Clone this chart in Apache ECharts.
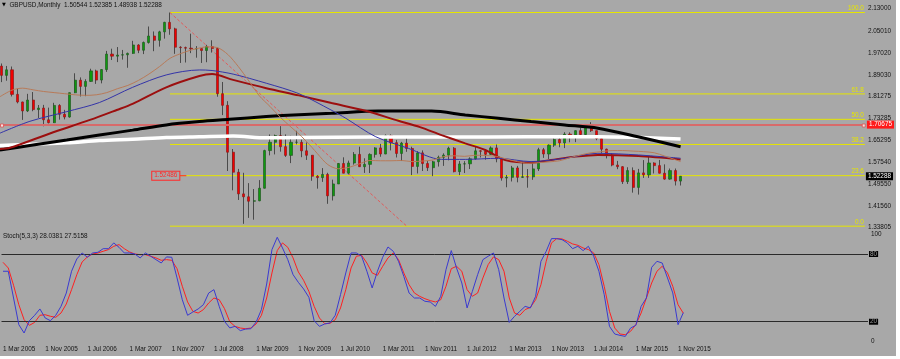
<!DOCTYPE html>
<html><head><meta charset="utf-8">
<script src="https://cdn.jsdelivr.net/npm/echarts@6/dist/echarts.min.js"></script>
<style>html,body{margin:0;padding:0;background:#fff;}#c{width:896px;height:356px;}</style>
</head><body><div id="c"></div>
<script>
// ---- categories (monthly bars, index 0 = Mar 2005) ----
const months = [
'2005-03','2005-04','2005-05','2005-06','2005-07','2005-08','2005-09','2005-10','2005-11','2005-12',
'2006-01','2006-02','2006-03','2006-04','2006-05','2006-06','2006-07','2006-08','2006-09','2006-10','2006-11','2006-12',
'2007-01','2007-02','2007-03','2007-04','2007-05','2007-06','2007-07','2007-08','2007-09','2007-10','2007-11','2007-12',
'2008-01','2008-02','2008-03','2008-04','2008-05','2008-06','2008-07','2008-08','2008-09','2008-10','2008-11','2008-12',
'2009-01','2009-02','2009-03','2009-04','2009-05','2009-06','2009-07','2009-08','2009-09','2009-10','2009-11','2009-12',
'2010-01','2010-02','2010-03','2010-04','2010-05','2010-06','2010-07','2010-08','2010-09','2010-10','2010-11','2010-12',
'2011-01','2011-02','2011-03','2011-04','2011-05','2011-06','2011-07','2011-08','2011-09','2011-10','2011-11','2011-12',
'2012-01','2012-02','2012-03','2012-04','2012-05','2012-06','2012-07','2012-08','2012-09','2012-10','2012-11','2012-12',
'2013-01','2013-02','2013-03','2013-04','2013-05','2013-06','2013-07','2013-08','2013-09','2013-10','2013-11','2013-12',
'2014-01','2014-02','2014-03','2014-04','2014-05','2014-06','2014-07','2014-08','2014-09','2014-10','2014-11','2014-12',
'2015-01','2015-02','2015-03','2015-04','2015-05','2015-06','2015-07','2015-08','2015-09','2015-10','2015-11','2015-12'];

const opens = [
1.9220,1.8885,1.9085,1.8195,1.7920,1.7595,1.7990,1.7645,1.7700,1.7275,
1.7170,1.7795,1.7475,1.7375,1.8255,1.8710,1.8485,1.8665,1.9045,1.8715,1.9095,1.9655,
1.9580,1.9620,1.9630,1.9680,1.9985,1.9795,2.0075,2.0310,2.0155,2.0460,2.0805,2.0570,
1.9905,1.9890,1.9870,1.9845,1.9855,1.9785,1.9925,1.9860,1.8220,1.7800,1.6100,1.5375,
1.4590,1.4485,1.4325,1.4340,1.4795,1.6160,1.6460,1.6700,1.6300,1.5985,1.6460,1.6460,
1.6150,1.5990,1.5230,1.5180,1.5295,1.4520,1.4950,1.5690,1.5340,1.5710,1.6020,1.5575,
1.5660,1.6020,1.6255,1.6035,1.6700,1.6445,1.6055,1.6430,1.6235,1.5585,1.6075,1.5690,
1.5540,1.5755,1.5915,1.5995,1.6245,1.5395,1.5675,1.5680,1.5860,1.6150,1.6135,1.6025,
1.6255,1.5860,1.5165,1.5190,1.5530,1.5190,1.5210,1.5205,1.5495,1.6190,1.6035,1.6355,
1.6560,1.6440,1.6755,1.6670,1.6880,1.6740,1.7105,1.6880,1.6595,1.6210,1.5995,1.5635,
1.5575,1.5035,1.5435,1.4825,1.5350,1.5280,1.5710,1.5615,1.5340,1.5125,1.5435,1.50544];
const highs = [
1.9315,1.9225,1.9205,1.8400,1.7930,1.8215,1.8280,1.7810,1.7815,1.7715,
1.7890,1.7840,1.7635,1.8265,1.8960,1.8810,1.8745,1.9125,1.9090,1.9105,1.9770,1.9850,
1.9910,1.9805,1.9710,2.0135,2.0015,2.0110,2.0655,2.0475,2.0500,2.0825,2.1161,2.0610,
1.9940,1.9925,2.0395,1.9945,1.9855,1.9990,2.0155,1.9890,1.8645,1.7950,1.6215,1.5495,
1.5355,1.4980,1.4765,1.5090,1.6190,1.6745,1.6740,1.7045,1.6745,1.6695,1.6875,1.6560,
1.6455,1.5995,1.5270,1.5525,1.5355,1.5105,1.5710,1.5915,1.5795,1.6105,1.6300,1.5880,
1.6060,1.6280,1.6400,1.6745,1.6745,1.6545,1.6475,1.6620,1.6300,1.6140,1.6165,1.5780,
1.5790,1.5975,1.6060,1.6300,1.6285,1.5780,1.5775,1.5915,1.6310,1.6175,1.6140,1.6310,
1.6380,1.5890,1.5275,1.5605,1.5605,1.5750,1.5490,1.5715,1.6260,1.6255,1.6385,1.6605,
1.6665,1.6825,1.6820,1.6890,1.6995,1.7110,1.7190,1.6880,1.6650,1.6230,1.6060,1.5785,
1.5590,1.5555,1.5550,1.5495,1.5815,1.5930,1.5735,1.5820,1.5660,1.5510,1.5510,1.52385];
const lows = [
1.8640,1.8690,1.8120,1.7870,1.7270,1.7555,1.7585,1.7340,1.7040,1.7145,
1.7160,1.7280,1.7290,1.7350,1.8240,1.8120,1.8130,1.8650,1.8575,1.8595,1.9010,1.9440,
1.9365,1.9455,1.9160,1.9665,1.9690,1.9655,2.0035,1.9760,1.9925,2.0215,2.0355,1.9665,
1.9335,1.9350,1.9690,1.9525,1.9335,1.9360,1.9710,1.8110,1.7445,1.5420,1.4720,1.4370,
1.3505,1.3720,1.3655,1.4325,1.4785,1.5985,1.6020,1.6120,1.5930,1.5705,1.6385,1.5920,
1.5820,1.5065,1.4780,1.5025,1.4230,1.4350,1.4950,1.5340,1.5295,1.5650,1.5575,1.5350,
1.5345,1.5905,1.5935,1.6030,1.6165,1.5910,1.5780,1.6115,1.5270,1.5330,1.5420,1.5420,
1.5235,1.5580,1.5605,1.5805,1.5370,1.5270,1.5345,1.5490,1.5830,1.5910,1.5830,1.6000,
1.5735,1.5070,1.4830,1.5040,1.5010,1.5165,1.4815,1.5100,1.5420,1.5895,1.5855,1.6290,
1.6280,1.6250,1.6460,1.6465,1.6695,1.6695,1.6835,1.6535,1.6050,1.5875,1.5590,1.5485,
1.4950,1.4950,1.4635,1.4565,1.5170,1.5170,1.5330,1.5330,1.5105,1.5105,1.4895,1.48938];
const closes = [
1.8885,1.9085,1.8195,1.7920,1.7595,1.7990,1.7645,1.7700,1.7275,1.7170,
1.7795,1.7475,1.7375,1.8255,1.8710,1.8485,1.8665,1.9045,1.8715,1.9095,1.9655,1.9580,
1.9620,1.9630,1.9680,1.9985,1.9795,2.0075,2.0310,2.0155,2.0460,2.0805,2.0570,1.9905,
1.9890,1.9870,1.9845,1.9855,1.9785,1.9925,1.9860,1.8220,1.7800,1.6100,1.5375,1.4590,
1.4485,1.4325,1.4340,1.4795,1.6160,1.6460,1.6700,1.6300,1.5985,1.6460,1.6460,1.6150,
1.5990,1.5230,1.5180,1.5295,1.4520,1.4950,1.5690,1.5340,1.5710,1.6020,1.5575,1.5660,
1.6020,1.6255,1.6035,1.6700,1.6445,1.6055,1.6430,1.6235,1.5585,1.6075,1.5690,1.5540,
1.5755,1.5915,1.5995,1.6245,1.5395,1.5675,1.5680,1.5860,1.6150,1.6135,1.6025,1.6255,
1.5860,1.5165,1.5190,1.5530,1.5190,1.5210,1.5205,1.5495,1.6190,1.6035,1.6355,1.6560,
1.6440,1.6755,1.6670,1.6880,1.6740,1.7105,1.6880,1.6595,1.6210,1.5995,1.5635,1.5575,
1.5035,1.5435,1.4825,1.5350,1.5280,1.5710,1.5615,1.5340,1.5125,1.5435,1.5055,1.52288];

// ---- moving averages: [bar index, price] ----
const maTan = [[-0.3,1.811],[2,1.835],[4,1.842],[6,1.836],[8,1.830],[10,1.826],[12,1.822],[14,1.818],[16,1.816],[18,1.818],[20,1.826],[22,1.840],[24,1.852],[26,1.870],[28,1.893],[30,1.920],[32,1.950],[34,1.967],[36,1.980],[38,1.989],[39,1.992],[41,1.989],[43,1.964],[45,1.920],[47,1.868],[49,1.814],[51,1.776],[53,1.736],[55,1.701],[57,1.667],[59,1.627],[60,1.605],[62,1.565],[64,1.550],[66,1.555],[68,1.568],[70,1.580],[72,1.579],[74,1.579],[76,1.580],[78,1.576],[80,1.578],[82,1.582],[84,1.594],[86,1.597],[88,1.595],[90,1.599],[92,1.598],[94,1.595],[96,1.585],[98,1.576],[100,1.570],[102,1.572],[104,1.575],[106,1.579],[108,1.590],[110,1.600],[112,1.608],[114,1.612],[116,1.616],[118,1.616],[120,1.614],[122,1.612],[124,1.608],[126,1.596],[128,1.583],[129,1.576]];
const maBlue = [[-0.3,1.679],[5.4,1.722],[12.4,1.757],[18.6,1.790],[24.9,1.845],[31.3,1.890],[37.6,1.908],[40,1.906],[44,1.893],[50.3,1.860],[56.5,1.822],[62.6,1.763],[65.4,1.733],[71.1,1.666],[77.3,1.624],[83.6,1.584],[88.1,1.584],[94.4,1.588],[100.6,1.576],[107,1.588],[113.3,1.606],[121,1.600],[129,1.588]];
const maRed = [[-0.3,1.622],[1.6,1.626],[9.2,1.678],[16.8,1.727],[21.9,1.763],[24.9,1.785],[31.3,1.845],[37.6,1.886],[40,1.893],[44,1.872],[50.3,1.842],[56.5,1.816],[62.7,1.788],[68.8,1.762],[75.4,1.724],[79.5,1.701],[83.6,1.672],[88.1,1.642],[91.9,1.618],[95.7,1.582],[100.6,1.572],[104.4,1.582],[109,1.594],[113.3,1.600],[121,1.596],[129,1.584]];
const maBlack = [[-0.3,1.618],[6,1.636],[12.4,1.654],[18.6,1.672],[24.9,1.690],[31.3,1.709],[37.6,1.721],[43.3,1.729],[50.3,1.739],[56.5,1.746],[62.7,1.751],[71.6,1.759],[81.7,1.759],[88.1,1.745],[94.4,1.733],[100.6,1.721],[107,1.709],[113.3,1.697],[120.9,1.666],[129,1.630]];
const maWhite = [[-0.3,1.634],[6,1.639],[12.4,1.644],[18.6,1.652],[24.9,1.657],[31.3,1.663],[37.6,1.666],[44,1.669],[50.3,1.662],[56.5,1.663],[70,1.665],[85,1.665],[100,1.666],[113.3,1.666],[129,1.658]];

// ---- stochastic (5,3,3) ----
const stochK = [64.7,64.7,41.0,17.4,10.0,20.9,25.7,31.3,23.3,20.9,25.7,33.6,45.4,64.7,75.6,80.9,77.1,80.9,81.5,84.7,
84.7,89.8,85.9,80.9,80.9,80.0,76.5,80.9,78.0,75.0,72.0,77.4,77.1,58.8,39.5,25.7,28.6,31.3,35.1,45.4,
48.4,33.6,20.3,14.5,15.9,12.1,13.5,13.8,19.7,30.7,53.4,83.9,94.8,85.3,75.0,61.7,54.9,49.0,41.6,20.9,
15.9,18.0,18.9,25.7,44.0,63.2,80.9,80.9,78.0,64.7,49.9,64.7,77.1,86.2,82.4,73.5,60.2,45.4,41.0,41.0,
38.1,37.5,33.6,42.5,66.1,83.0,67.6,54.3,32.2,46.9,61.7,75.0,78.0,80.9,66.1,41.0,19.4,24.8,29.2,33.6,
32.2,42.5,73.5,82.4,93.6,93.6,92.7,89.8,84.7,86.8,83.0,86.8,78.0,64.7,44.0,15.9,9.1,7.9,7.0,14.4,
16.8,33.6,41.0,68.2,73.5,72.0,58.8,45.5,17.4,28.04];
const stochD = [72.6,67.6,52.3,35.1,21.8,16.8,19.4,25.7,26.2,24.8,23.9,27.7,35.7,48.4,61.7,72.9,77.4,80.0,80.9,82.4,
83.9,86.8,88.3,84.7,81.8,80.0,79.4,79.4,78.0,76.5,74.4,75.0,74.4,67.0,51.4,37.5,29.2,27.7,30.7,36.6,
41.0,39.5,31.6,20.0,15.9,14.4,13.8,14.4,18.0,25.7,41.0,63.2,83.0,89.8,85.9,76.5,64.1,56.7,46.9,33.6,
23.3,18.3,18.6,21.8,32.2,48.4,67.6,78.0,78.8,72.0,63.2,61.1,69.1,76.5,80.9,75.0,63.2,52.8,45.5,42.5,
40.4,38.7,37.5,39.5,51.4,67.0,69.1,64.7,48.4,42.5,45.4,58.8,70.6,77.4,75.0,64.7,41.0,27.7,25.7,30.7,
32.7,39.5,52.8,73.5,89.8,93.6,93.3,91.3,88.9,87.7,85.3,83.9,80.9,70.6,51.4,29.2,14.4,9.1,8.5,11.5,
17.4,27.7,41.0,54.3,64.7,69.1,63.2,51.4,35.1,27.52];

// ---- axis ticks / levels ----
const tickIdx = [0,8,16,24,32,40,48,56,64,72,80,88,96,104,112,120,128];
const tickLabels = ['1 Mar 2005','1 Nov 2005','1 Jul 2006','1 Mar 2007','1 Nov 2007','1 Jul 2008','1 Mar 2009','1 Nov 2009','1 Jul 2010','1 Mar 2011','1 Nov 2011','1 Jul 2012','1 Mar 2013','1 Nov 2013','1 Jul 2014','1 Mar 2015','1 Nov 2015'];
const priceTicks = [2.13000,2.05010,1.97020,1.89030,1.81275,1.73285,1.65295,1.57540,1.49550,1.41560,1.33805];
const fibAnchor = [[32,2.1161],[77,1.3420]];
const fibLevels = [2.1161,1.8212,1.7291,1.6381,1.5250,1.3420];
const fibNames = ['100.0','61.8','50.0','38.2','23.6','0.0'];
const hLine = 1.70675;
const lastPrice = 1.52288;
const priceLabel = [34.45, 1.52486];
const stochLevels = [20, 80];

const X_MIN = -0.284, X_MAX = 164.02;
const Y_MIN = 1.32817, Y_MAX = 2.16148;
const FONT = 'Liberation Sans';
const FS = 6.4;

const chart = echarts.init(document.getElementById('c'));
const wickData = months.map((m,i)=>[i, opens[i], closes[i], lows[i], highs[i]]);
const bodyData = months.map((m,i)=>[i, opens[i], closes[i], Math.min(opens[i],closes[i]), Math.max(opens[i],closes[i])]);

const lbl = {fontFamily: FONT, fontSize: FS, color: '#141414'};
const bare = {axisLine: {show: false}, axisTick: {show: false}, splitLine: {show: false}, axisPointer: {show: false}};

// one line series per Fibonacci level, label on its right end
const fibSeries = fibLevels.map((v, k) => ({
  name: 'fib ' + fibNames[k], type: 'line', xAxisIndex: 0, yAxisIndex: 0, z: 1,
  symbol: 'circle', symbolSize: 0.01, showSymbol: true, silent: true,
  lineStyle: {color: '#e6e600', width: 1},
  itemStyle: {color: '#e6e600'},
  data: [
    {value: [fibAnchor[0][0], v], label: {show: false}},
    {value: [X_MAX, v], label: {show: true, position: [-1, -1], align: 'right', verticalAlign: 'bottom',
      formatter: fibNames[k], color: '#e6e600', fontFamily: FONT, fontSize: FS}}
  ]
}));

chart.setOption({
  backgroundColor: '#a8a8a8',
  animation: false,
  textStyle: {fontFamily: FONT},
  title: [
    {text: '{t|▼}  GBPUSD,Monthly  1.50544 1.52385 1.48938 1.52288', left: 2, top: 2, padding: 0,
     textStyle: {fontFamily: FONT, fontSize: FS, fontWeight: 'normal', color: '#141414',
       rich: {t: {fontFamily: 'DejaVu Sans', fontSize: 5, color: '#000'}}}},
    {text: 'Stoch(5,3,3) 28.0381 27.5158', left: 3, top: 233, padding: 0,
     textStyle: {fontFamily: FONT, fontSize: FS, fontWeight: 'normal', color: '#141414'}}
  ],
  grid: [
    {left: 0, top: 0, width: 868, height: 230},
    {left: 0, top: 231.4, width: 868, height: 112.9}
  ],
  xAxis: [
    Object.assign({gridIndex: 0, type: 'value', min: X_MIN, max: X_MAX, axisLabel: {show: false}}, bare),
    Object.assign({gridIndex: 1, type: 'value', min: X_MIN, max: X_MAX,
     axisLabel: Object.assign({}, lbl, {customValues: tickIdx, align: 'left', margin: 2,
       formatter: v => tickLabels[tickIdx.indexOf(Math.round(v))] || ''})}, bare)
  ],
  yAxis: [
    Object.assign({gridIndex: 0, type: 'value', position: 'right', min: Y_MIN, max: Y_MAX,
     axisLabel: Object.assign({}, lbl, {customValues: priceTicks, margin: 3, formatter: v => v.toFixed(5)})}, bare),
    Object.assign({gridIndex: 1, type: 'value', position: 'right', min: 0, max: 100,
     axisLabel: Object.assign({}, lbl, {customValues: stochLevels, margin: 1, backgroundColor: '#000', color: '#9a9a9a', padding: [0, 1]})}, bare),
    Object.assign({gridIndex: 1, type: 'value', position: 'right', min: 0, max: 100,
     axisLabel: Object.assign({}, lbl, {customValues: [100], margin: 3, verticalAlign: 'top'})}, bare),
    Object.assign({gridIndex: 1, type: 'value', position: 'right', min: 0, max: 100,
     axisLabel: Object.assign({}, lbl, {customValues: [0], margin: 3, verticalAlign: 'bottom'})}, bare),
    Object.assign({gridIndex: 0, type: 'value', position: 'right', min: Y_MIN, max: Y_MAX,
     axisLabel: Object.assign({}, lbl, {customValues: [lastPrice], margin: 1, backgroundColor: '#000', color: '#fff', padding: [1, 2],
       formatter: v => v.toFixed(5)})}, bare)
  ],
  series: fibSeries.concat([
    {name: 'fib trend', type: 'line', xAxisIndex: 0, yAxisIndex: 0, data: fibAnchor, symbol: 'none', z: 1, silent: true,
     lineStyle: {color: '#e25a5a', width: 1, type: [3, 2]},
     markPoint: {silent: true, animation: false, symbol: 'rect', symbolSize: [7, 1],
       itemStyle: {color: '#ff2a2a'},
       label: {show: true, position: 'left', distance: 0, formatter: '1.52486', color: '#ff2a2a', fontFamily: FONT, fontSize: FS,
         borderColor: '#ff2a2a', borderWidth: 1, padding: [1, 2], backgroundColor: '#a8a8a8'},
       data: [{coord: priceLabel}]}},
    {name: 'wick', type: 'candlestick', xAxisIndex: 0, yAxisIndex: 0, data: wickData, barWidth: 1, z: 2,
     encode: {x: 0, y: [1, 2, 3, 4]},
     itemStyle: {color: '#4a4a4a', color0: '#4a4a4a', borderColor: '#4a4a4a', borderColor0: '#4a4a4a', borderWidth: 1}},
    {name: 'body', type: 'candlestick', xAxisIndex: 0, yAxisIndex: 0, data: bodyData, barWidth: 2.6, z: 3,
     encode: {x: 0, y: [1, 2, 3, 4]},
     itemStyle: {color: '#0e9a0e', color0: '#f20000', borderColor: '#245a24', borderColor0: '#8a1c1c', borderWidth: 0.7}},
    {name: 'MA white', type: 'line', data: maWhite, symbol: 'none', smooth: 0.3, z: 4, lineStyle: {color: '#ffffff', width: 3.5}},
    {name: 'MA black', type: 'line', data: maBlack, symbol: 'none', smooth: 0.3, z: 5, lineStyle: {color: '#000000', width: 3}},
    {name: 'MA red', type: 'line', data: maRed, symbol: 'none', smooth: 0.3, z: 6, lineStyle: {color: '#9c0f0f', width: 2}},
    {name: 'MA blue', type: 'line', data: maBlue, symbol: 'none', smooth: 0.3, z: 7, lineStyle: {color: '#3434a8', width: 1}},
    {name: 'MA tan', type: 'line', data: maTan, symbol: 'none', smooth: 0.3, z: 8, lineStyle: {color: '#b87a58', width: 1}},
    {name: 'hline', type: 'scatter', data: [[0.1, hLine], [163.8, hLine]], symbol: 'rect', symbolSize: 3, z: 10,
     itemStyle: {color: '#ffffff', borderColor: '#e05050', borderWidth: 1},
     markLine: {silent: true, symbol: 'none', animation: false,
       lineStyle: {color: '#d86a6a', width: 2, type: 'solid'},
       label: {show: true, position: 'end', distance: 2, formatter: '1.70675', backgroundColor: '#ff1a1a', color: '#ffffff', fontFamily: FONT, fontSize: FS, padding: [1, 2]},
       data: [{yAxis: hLine}]}},
    {name: 'Stoch main', type: 'line', xAxisIndex: 1, yAxisIndex: 1, data: stochK.map((v,i)=>[i,v]), symbol: 'none', z: 5,
     lineStyle: {color: '#3a3ad0', width: 1},
     markLine: {silent: true, symbol: 'none', animation: false, label: {show: false},
       lineStyle: {color: '#2a2a2a', width: 1, type: 'solid'},
       data: stochLevels.map(v => ({yAxis: v}))}},
    {name: 'Stoch signal', type: 'line', xAxisIndex: 1, yAxisIndex: 1, data: stochD.map((v,i)=>[i,v]), symbol: 'none', z: 4,
     lineStyle: {color: '#ff2020', width: 1}}
  ])
});
</script></body></html>
